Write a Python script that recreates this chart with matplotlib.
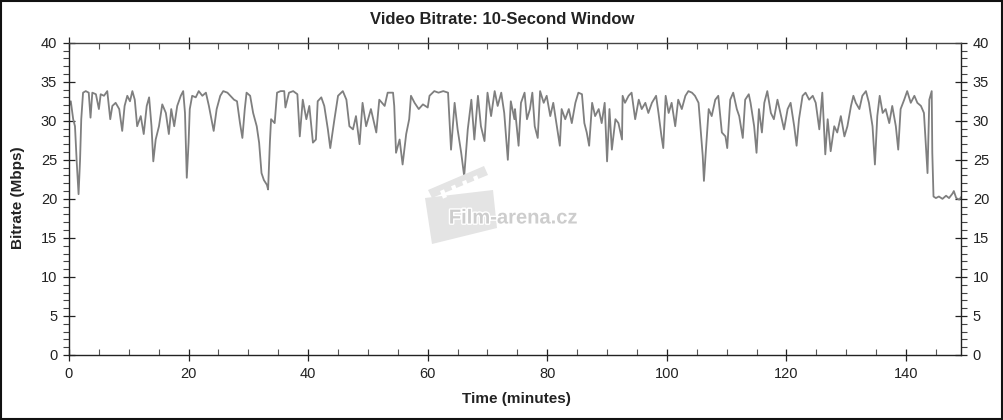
#!/usr/bin/env python3
"""
视频码率图表 (10秒窗口)
"""

import matplotlib.pyplot as plt
import matplotlib.patheffects as pe
from matplotlib.patches import Rectangle, Polygon
from matplotlib.ticker import MultipleLocator

plt.rcParams['font.family'] = ['Liberation Sans', 'DejaVu Sans']

# 时间 (分钟) 和码率 (Mbps) - 从原图读取
times = [
    0.0, 0.3, 0.7, 1.0, 1.3, 1.6, 1.85, 2.05, 2.35, 2.8, 3.3, 3.6, 3.9, 4.5, 5.0, 5.3,
    5.85, 6.4, 6.9, 7.25, 7.8, 8.4, 8.9, 9.3, 9.75, 10.2, 10.6, 11.0, 11.4, 12.0, 12.5,
    13.0, 13.4, 13.8, 14.1, 14.5, 15.05, 15.6, 16.2, 16.7, 17.1, 17.6, 18.1, 18.7, 19.1,
    19.4, 19.7, 20.0, 20.2, 20.6, 21.2, 21.7, 22.3, 22.9, 23.4, 24.2, 24.7, 25.3, 25.8,
    26.5, 27.0, 27.6, 28.1, 28.6, 29.0, 29.4, 29.7, 30.3, 30.8, 31.4, 31.8, 32.2, 32.6,
    33.1, 33.3, 33.6, 33.8, 34.4, 34.8, 35.4, 36.0, 36.2, 36.8, 37.5, 38.2,
    38.6, 39.1, 39.7, 40.2, 40.8, 41.3, 41.6, 42.2, 42.7, 43.3, 43.7, 44.4, 45.0, 45.8,
    46.4, 46.9, 47.5, 48.0, 48.6, 49.1, 49.7, 50.5, 51.4, 51.9, 52.8, 53.3, 54.2, 54.4,
    54.7, 55.3, 55.8, 56.4, 56.9, 57.2, 57.8, 58.5, 59.2, 60.0, 60.3, 61.1, 61.8, 62.6,
    63.4, 63.9, 64.5, 65.0, 65.6, 66.1, 66.7, 67.3, 67.8, 68.4, 68.9, 69.5, 70.0, 70.6,
    71.2, 71.7, 72.3, 72.8, 73.4, 73.9, 74.5,
    74.6, 75.2, 75.6, 76.2, 76.6, 77.1, 77.5, 77.9, 78.4, 78.8, 79.4, 79.9, 80.5, 81.0,
    81.6, 82.1, 82.4, 83.0, 83.6, 84.1, 84.7, 85.2, 85.8, 86.2, 86.6, 87.0, 87.5, 88.0,
    88.6, 89.1, 89.6, 90.0, 90.4, 90.8, 91.4, 91.9, 92.5, 92.6, 93.0, 93.6, 94.1, 94.7,
    95.3, 95.8, 96.4, 96.9, 97.5, 98.2, 98.6, 99.1, 99.4, 99.8, 100.3, 100.8, 101.4,
    101.9, 102.5, 103.1, 103.6, 104.2, 104.7, 105.3, 105.7, 106.0, 106.2, 106.5, 107.0,
    107.5, 108.1, 108.6, 109.2, 109.8, 110.1, 110.6, 111.1, 111.7,
    112.1, 112.7, 113.1, 113.7, 114.0, 114.6, 115.0, 115.4, 115.9, 116.3, 116.8, 117.4,
    117.9, 118.5, 119.1, 119.6, 120.2, 120.7, 121.3, 121.7, 122.1, 122.7, 123.2, 123.8,
    124.4, 124.9, 125.5, 126.0, 126.5, 126.9, 127.4, 128.0, 128.5, 129.1, 129.7, 130.2,
    130.8, 131.2, 131.6, 132.2, 132.7, 133.3, 133.8, 134.4, 134.8, 135.2, 135.6, 136.1,
    136.6, 137.2, 137.7, 138.3, 138.7, 139.1, 139.7, 140.2, 140.8, 141.4, 141.9, 142.5,
    143.0, 143.4, 143.6, 143.9, 144.3, 144.4, 144.6, 145.0, 145.5, 146.1, 146.7, 147.2,
    147.8, 148.0, 148.4, 148.9, 149.2,
]
bitrate = [
    31.9, 32.5, 30.2, 29.3, 24.6, 20.6, 25.0, 30.2, 33.6, 33.8, 33.6, 30.4, 33.6, 33.4, 31.5, 33.4,
    33.2, 33.8, 30.2, 31.9, 32.3, 31.5, 28.7, 31.9, 33.2, 32.5, 33.8, 32.7, 29.3, 30.6, 28.3,
    31.9, 33.0, 29.3, 24.8, 27.6, 29.3, 32.1, 31.0, 28.3, 31.5, 29.3, 31.9, 33.2, 33.8,
    31.0, 22.7, 27.2, 31.5, 33.2, 33.0, 33.8, 33.2, 33.6, 31.9, 28.7, 31.5, 33.2, 33.8,
    33.6, 33.2, 32.7, 32.5, 29.7, 27.8, 31.5, 33.6, 33.2, 31.0, 29.3, 27.2, 23.3, 22.4,
    21.8, 21.2, 27.2, 30.2, 29.7, 33.6, 33.8, 33.8, 31.7, 33.6, 33.8, 33.4,
    28.0, 32.7, 30.2, 31.9, 27.2, 27.6, 32.5, 33.0, 31.9, 28.9, 26.5, 30.2, 33.2, 33.8,
    32.7, 29.3, 28.9, 30.6, 27.0, 32.3, 29.3, 31.5, 28.5, 32.7, 31.9, 33.6, 33.6, 31.9,
    25.9, 27.6, 24.4, 28.3, 30.2, 33.2, 32.3, 31.5, 32.1, 31.7, 33.2, 33.8, 33.6, 33.8,
    33.6, 26.3, 32.3, 28.9, 25.9, 22.9, 28.9, 32.7, 27.6, 33.2, 29.3, 27.4, 33.6, 30.6,
    33.8, 31.9, 33.6, 31.0, 25.0, 32.5, 30.2,
    31.5, 26.8, 32.3, 33.6, 30.2, 31.5, 33.6, 29.3, 27.8, 33.8, 32.3, 33.2, 30.6, 32.3,
    29.3, 26.8, 31.5, 30.2, 31.5, 29.7, 32.3, 33.6, 33.4, 29.7, 28.5, 26.8, 32.3, 30.6,
    31.5, 29.7, 32.3, 24.8, 31.5, 26.3, 30.2, 29.7, 27.6, 33.2, 32.3, 33.2, 33.6, 30.2,
    32.7, 31.5, 32.3, 31.0, 32.3, 33.2, 31.0, 28.0, 26.5, 33.2, 31.0, 32.3, 29.3,
    32.7, 31.5, 33.2, 33.8, 33.6, 33.2, 32.3, 28.5, 25.5, 22.3, 25.9, 31.5,
    30.6, 32.7, 33.2, 28.5, 28.0, 26.5, 32.7, 33.6, 31.5,
    30.6, 27.8, 32.7, 33.4, 32.3, 29.3, 25.9, 31.5, 28.5, 32.3, 33.8, 31.0,
    30.2, 32.7, 30.6, 28.9, 31.5, 32.3, 29.3, 26.8, 30.2, 33.2, 33.6, 32.7,
    33.2, 32.3, 28.9, 33.6, 25.7, 30.2, 26.1, 29.3, 28.5, 30.6, 28.0, 29.3,
    31.9, 33.2, 32.3, 31.5, 33.2, 33.8, 32.3, 29.3, 24.4, 30.6, 33.2, 31.0,
    31.5, 29.7, 31.9, 29.3, 26.3, 31.5, 32.7, 33.8, 32.3, 33.2, 32.3, 31.9,
    31.0, 25.9, 23.3, 32.7, 33.8, 25.9, 20.3, 20.1, 20.3, 20.0, 20.4, 20.1,
    20.7, 21.0, 20.1, 19.9, 20.2,
]

x_major = [0, 20, 40, 60, 80, 100, 120, 140]
y_major = [0, 5, 10, 15, 20, 25, 30, 35, 40]

W, H = 1004, 420


def px(x, y):
    # 像素坐标 -> figure 坐标
    return (x / W, 1 - y / H)


def draw_watermark(fig):
    grey = '#e4e4e4'
    board = [px(425, 198), px(493, 190), px(497, 228), px(432, 244)]
    stick = [px(428, 190), px(484, 166), px(488, 175), px(432, 198)]
    fig.patches.append(Polygon(board, closed=True, transform=fig.transFigure,
                               facecolor=grey, edgecolor='none', zorder=0))
    fig.patches.append(Polygon(stick, closed=True, transform=fig.transFigure,
                               facecolor=grey, edgecolor='none', zorder=0))
    # 场记板条纹
    for k in range(4):
        x0 = 440 + k * 11
        y0 = 191 - k * 4.7
        stripe = [px(x0, y0), px(x0 + 4, y0 - 1.7), px(x0 + 7, y0 + 6), px(x0 + 3, y0 + 7.7)]
        fig.patches.append(Polygon(stripe, closed=True, transform=fig.transFigure,
                                   facecolor='white', edgecolor='none', zorder=0))
    txt = fig.text(513 / W, 1 - 218 / H, 'Film-arena.cz', ha='center', va='center',
                   fontsize=14.5, fontweight='bold', color='#cdcdcd', zorder=1)
    txt.set_path_effects([pe.withStroke(linewidth=2, foreground='white')])


def draw_chart():
    fig = plt.figure(figsize=(W / 100, H / 100), dpi=100)
    draw_watermark(fig)

    ax = fig.add_axes([69 / W, 1 - 355 / H, (961 - 69) / W, (355 - 42.7) / H])
    ax.patch.set_alpha(0)

    ax.plot(times, bitrate, color='#7f7f7f', linewidth=1.3)

    ax.set_xlim(0, 149.2)
    ax.set_ylim(0, 40)
    ax.set_xticks(x_major)
    ax.set_yticks(y_major)
    ax.xaxis.set_minor_locator(MultipleLocator(5))
    ax.yaxis.set_minor_locator(MultipleLocator(1))

    ax.tick_params(axis='both', which='major', labelsize=10.5, colors='#222222',
                   direction='inout', length=9, width=0.9)
    ax.tick_params(axis='x', which='major', pad=4, top=True)
    ax.tick_params(axis='y', which='major', pad=4, right=True, labelright=True)
    ax.tick_params(axis='x', which='minor', direction='in', length=4, width=0.8,
                   top=True, color='#555555')
    ax.tick_params(axis='y', which='minor', direction='out', length=4, width=0.8,
                   right=True, color='#444444')

    for side in ['left', 'right', 'bottom']:
        ax.spines[side].set_linewidth(1.0)
        ax.spines[side].set_color('#222222')
    ax.spines['top'].set_linewidth(1.0)
    ax.spines['top'].set_color('#444444')

    fig.text(0.5, 1 - 20 / H, 'Video Bitrate: 10-Second Window', ha='center', va='center',
             fontsize=12, fontweight='bold', color='#222222')
    fig.text(516 / W, 1 - 399 / H, 'Time (minutes)', ha='center', va='center',
             fontsize=11, fontweight='bold', color='#222222')
    fig.text(18 / W, 1 - 198 / H, 'Bitrate (Mbps)', ha='center', va='center',
             rotation=90, fontsize=11, fontweight='bold', color='#222222')

    # 外边框
    fig.patches.append(Rectangle((0.001, 0.002), 0.997, 0.996, transform=fig.transFigure,
                                 fill=False, edgecolor='#111111', linewidth=1.5))

    fig.savefig('out.png', dpi=100)
    plt.close(fig)


if __name__ == "__main__":
    draw_chart()
